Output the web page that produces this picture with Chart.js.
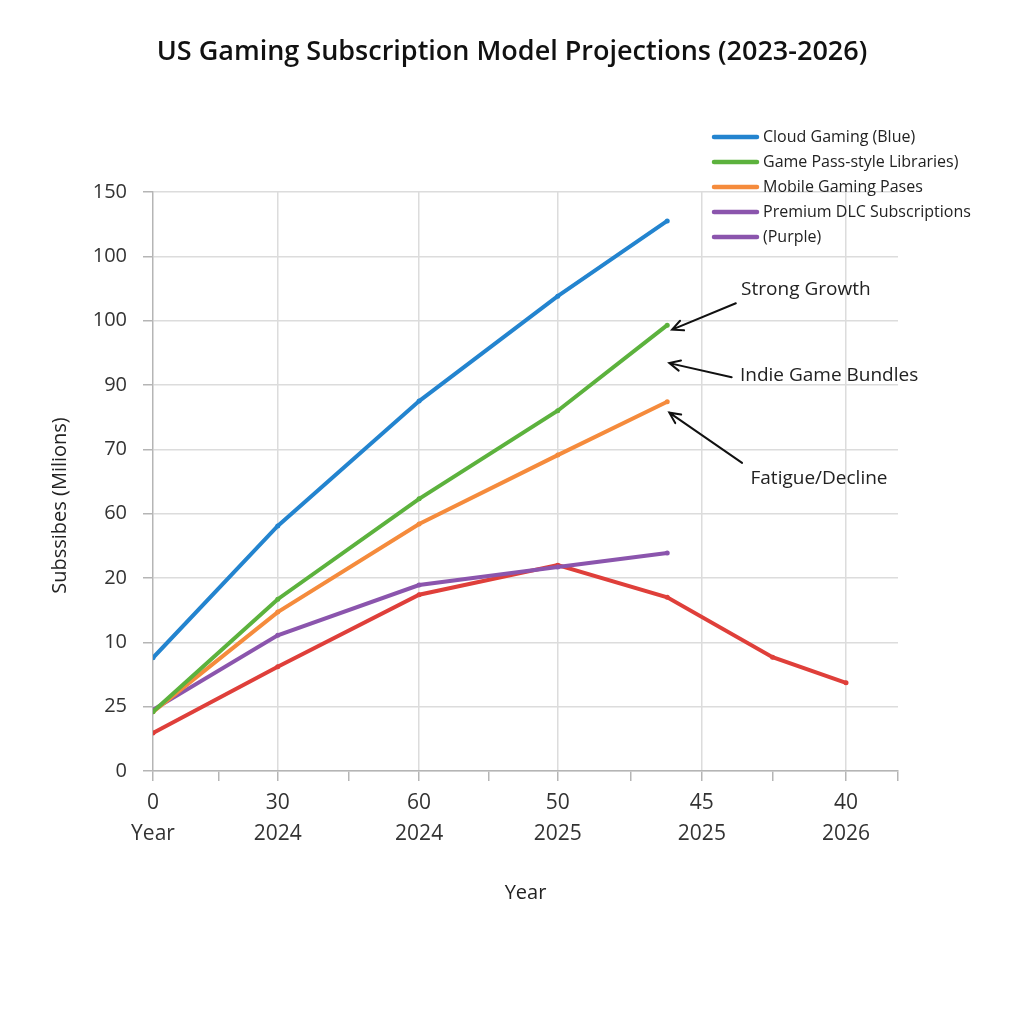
<!DOCTYPE html>
<html>
<head>
<meta charset="utf-8">
<title>US Gaming Subscription Model Projections</title>
<script src="https://cdn.jsdelivr.net/npm/chart.js@4.4.1/dist/chart.umd.min.js"></script>
<style>
  html, body { margin: 0; padding: 0; background: #fff; }
  #wrap { width: 1024px; height: 1024px; }
</style>
</head>
<body>
<div id="wrap"><canvas id="myChart" width="1024" height="1024"></canvas></div>
<script>
// x positions of ticks (tick marks along the year axis) and their labels
var xTicks = [0, 0.95, 1.8, 2.82, 3.84, 4.84, 5.84, 6.9, 7.92, 8.94, 10, 10.75];
var xLabels = [["0", "Year"], "", ["30", "2024"], "", ["60", "2024"], "", ["50", "2025"], "", ["45", "2025"], "", ["40", "2026"], ""];
var xMajor = [true, false, true, false, true, false, true, false, true, false, true, false];

// y tick labels as printed on the chart, bottom to top
var yLabels = ["0", "25", "10", "20", "60", "70", "90", "100", "100", "150"];

// series (x positions, values)
var xMain = [0, 1.8, 3.84, 5.84, 7.42];
var xRed = [0, 1.8, 3.84, 5.84, 7.42, 8.94, 10];

var cloud = [1.76, 3.81, 5.75, 7.38, 8.55];
var gamePass = [0.92, 2.67, 4.23, 5.6, 6.93];
var mobile = [0.92, 2.47, 3.84, 4.91, 5.74];
var premiumDlc = [0.95, 2.11, 2.89, 3.17, 3.39];
var indie = [0.59, 1.62, 2.74, 3.2, 2.7, 1.77, 1.37];

var legendLabels = ["Cloud Gaming (Blue)", "Game Pass-style Libraries)", "Mobile Gaming Pases", "Premium DLC Subscriptions", "(Purple)"];
var legendColors = ["#2384cf", "#5cb23d", "#f58b3c", "#8b55ad", "#8b55ad"];

// annotation notes: text position and arrow (from -> to) in data units
var notes = [
  { text: "Strong Growth", tx: 9.42, ty: 7.49, align: "center", ax1: 8.41, ay1: 7.27, ax2: 7.49, ay2: 6.86 },
  { text: "Indie Game Bundles", tx: 8.47, ty: 6.14, align: "left", ax1: 8.35, ay1: 6.12, ax2: 7.45, ay2: 6.34 },
  { text: "Fatigue/Decline", tx: 9.61, ty: 4.54, align: "center", ax1: 8.5, ay1: 4.79, ax2: 7.45, ay2: 5.57 }
];

var chartTitle = "US Gaming Subscription Model Projections (2023-2026)";

function pts(xs, ys) {
  var out = [];
  for (var i = 0; i < ys.length; i++) {
    out.push({ x: xs[i], y: ys[i] });
  }
  return out;
}

function serie(label, xs, ys, color) {
  return {
    label: label,
    data: pts(xs, ys),
    borderColor: color,
    backgroundColor: color,
    borderWidth: 4,
    pointRadius: 2.5,
    pointBorderWidth: 0,
    tension: 0
  };
}

var fontFam = "'Open Sans', 'Noto Sans', sans-serif";

var extras = {
  id: "extras",
  afterDraw: function (chart) {
    var c = chart.ctx;
    var xs = chart.scales.x;
    var ys = chart.scales.y;
    var area = chart.chartArea;
    c.save();

    // title, centred on the page
    c.fillStyle = "#111";
    c.font = "600 27px " + fontFam;
    c.textAlign = "center";
    c.textBaseline = "middle";
    c.fillText(chartTitle, chart.width / 2, 52);

    // y axis title
    c.fillStyle = "#222";
    c.font = "20px " + fontFam;
    c.save();
    c.translate(60, (area.top + area.bottom) / 2 + 24);
    c.rotate(-Math.PI / 2);
    c.fillText("Subssibes (Milions)", 0, 0);
    c.restore();

    // legend
    c.font = "16px " + fontFam;
    c.textAlign = "left";
    c.lineCap = "round";
    for (var i = 0; i < legendLabels.length; i++) {
      var ly = 137 + i * 25;
      c.strokeStyle = legendColors[i];
      c.lineWidth = 4.5;
      c.beginPath();
      c.moveTo(714, ly);
      c.lineTo(757, ly);
      c.stroke();
      c.fillStyle = "#222";
      c.fillText(legendLabels[i], 763, ly);
    }

    // notes with arrows
    c.font = "19px " + fontFam;
    c.strokeStyle = "#111";
    c.lineWidth = 2;
    c.lineCap = "round";
    notes.forEach(function (n) {
      c.fillStyle = "#222";
      c.textAlign = n.align;
      c.fillText(n.text, xs.getPixelForValue(n.tx), ys.getPixelForValue(n.ty));
      var x1 = xs.getPixelForValue(n.ax1), y1 = ys.getPixelForValue(n.ay1);
      var x2 = xs.getPixelForValue(n.ax2), y2 = ys.getPixelForValue(n.ay2);
      var ang = Math.atan2(y2 - y1, x2 - x1);
      c.beginPath();
      c.moveTo(x1, y1);
      c.lineTo(x2, y2);
      c.moveTo(x2 - 12 * Math.cos(ang - 0.45), y2 - 12 * Math.sin(ang - 0.45));
      c.lineTo(x2, y2);
      c.lineTo(x2 - 12 * Math.cos(ang + 0.45), y2 - 12 * Math.sin(ang + 0.45));
      c.stroke();
    });
    c.restore();
  }
};

var ctx = document.getElementById("myChart");
var myChart = new Chart(ctx, {
  type: "line",
  data: {
    datasets: [
      serie("Cloud Gaming (Blue)", xMain, cloud, legendColors[0]),
      serie("Game Pass-style Libraries)", xMain, gamePass, legendColors[1]),
      serie("Mobile Gaming Pases", xMain, mobile, legendColors[2]),
      serie("Premium DLC Subscriptions", xMain, premiumDlc, legendColors[3]),
      serie("Indie Game Bundles", xRed, indie, "#df3f3a")
    ]
  },
  options: {
    responsive: false,
    animation: false,
    layout: { padding: { left: 0, right: 126, top: 192, bottom: 103 } },
    plugins: {
      legend: { display: false },
      tooltip: { enabled: false },
      title: { display: false }
    },
    scales: {
      x: {
        type: "linear",
        min: 0,
        max: 10.75,
        afterFit: function (s) { s.height = 150; },
        afterBuildTicks: function (s) {
          s.ticks = xTicks.map(function (v) { return { value: v }; });
        },
        ticks: {
          autoSkip: false,
          maxRotation: 0,
          padding: 6,
          color: "#333",
          font: { family: fontFam, size: 21, lineHeight: 1.48 },
          callback: function (v, i) { return xLabels[i]; }
        },
        grid: {
          color: function (c) { return (xMajor[c.index] && c.index > 0) ? "#dcdcdc" : "rgba(0,0,0,0)"; },
          tickColor: "#b5b5b5",
          tickLength: 10,
          lineWidth: 1.5
        },
        border: { color: "#b5b5b5", width: 1.5 },
        title: {
          display: true,
          text: "Year",
          color: "#222",
          font: { family: fontFam, size: 20 },
          padding: { top: 0, bottom: 16 }
        }
      },
      y: {
        type: "linear",
        min: 0,
        max: 9,
        afterFit: function (s) { s.width = 153; },
        ticks: {
          stepSize: 1,
          padding: 16,
          color: "#333",
          font: { family: fontFam, size: 20 },
          callback: function (v) { return yLabels[v]; }
        },
        grid: {
          color: "#dcdcdc",
          tickColor: "#b5b5b5",
          tickLength: 10,
          lineWidth: 1.5
        },
        border: { color: "#b5b5b5", width: 1.5 }
      }
    }
  },
  plugins: [extras]
});
</script>
</body>
</html>
